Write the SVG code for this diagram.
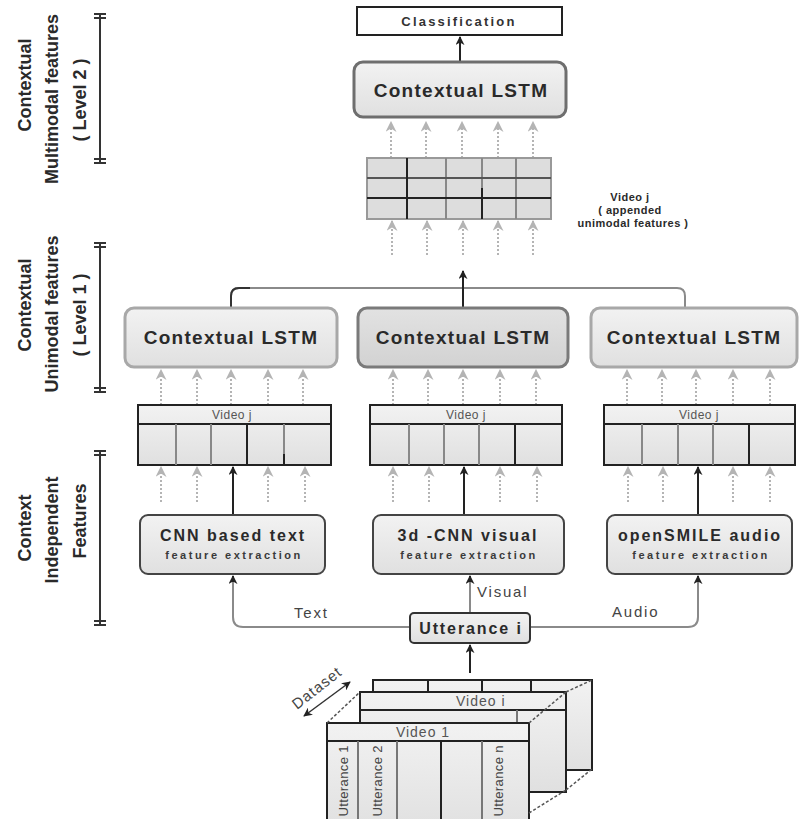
<svg xmlns="http://www.w3.org/2000/svg" width="799" height="819" viewBox="0 0 799 819">
  <defs>
    <linearGradient id="gBox" x1="0" y1="0" x2="0" y2="1">
      <stop offset="0" stop-color="#f2f2f2"/>
      <stop offset="1" stop-color="#e0e0e0"/>
    </linearGradient>
    <linearGradient id="gDark" x1="0" y1="0" x2="0" y2="1">
      <stop offset="0" stop-color="#e2e2e2"/>
      <stop offset="1" stop-color="#d2d2d2"/>
    </linearGradient>
    <marker id="ahBlack" viewBox="0 0 10 10" refX="9" refY="5" markerWidth="9" markerHeight="9" markerUnits="userSpaceOnUse" orient="auto-start-reverse">
      <path d="M0,0 L10,5 L0,10 L3,5 Z" fill="#222"/>
    </marker>
    <marker id="ahGray" viewBox="0 0 10 10" refX="9" refY="5" markerWidth="11" markerHeight="11" markerUnits="userSpaceOnUse" orient="auto">
      <path d="M0,0 L10,5 L0,10 L3,5 Z" fill="#b4b4b4"/>
    </marker>
  </defs>
  <style>
    .lab { font-family: "Liberation Sans", Arial, sans-serif; font-weight: bold; font-size: 18px; fill: #2a2a2a; text-anchor: middle; }
    .lstm { font-family: "Liberation Sans", Arial, sans-serif; font-weight: bold; font-size: 19px; letter-spacing: 1.3px; fill: #2a2a2a; text-anchor: middle; }
    .feat { font-family: "Liberation Sans", Arial, sans-serif; font-weight: bold; font-size: 16px; letter-spacing: 2px; fill: #2a2a2a; text-anchor: middle; }
    .sub { font-family: "Liberation Sans", Arial, sans-serif; font-weight: bold; font-size: 11px; letter-spacing: 2.5px; fill: #3a3a3a; text-anchor: middle; }
    .hdr { font-family: "Liberation Sans", Arial, sans-serif; font-size: 12px; letter-spacing: 0.5px; fill: #555; text-anchor: middle; }
    .edge { font-family: "Liberation Sans", Arial, sans-serif; font-size: 15px; letter-spacing: 1.8px; fill: #444; }
    .note { font-family: "Liberation Sans", Arial, sans-serif; font-weight: bold; font-size: 11px; letter-spacing: 0.5px; fill: #2a2a2a; text-anchor: middle; }
    .utt { font-family: "Liberation Sans", Arial, sans-serif; font-size: 13px; letter-spacing: 0.4px; fill: #444; text-anchor: end; }
    .bar { stroke: #333; stroke-width: 2; fill: none; }
    .dots { stroke: #b4b4b4; stroke-width: 2; stroke-dasharray: 2 2; fill: none; marker-end: url(#ahGray); }
    .solid { stroke: #222; stroke-width: 2; fill: none; marker-end: url(#ahBlack); }
    .gline { stroke: #8a8a8a; stroke-width: 2; fill: none; }
    .tbl { fill: url(#gBox); stroke: #222; stroke-width: 2; }
    .col { stroke: #888; stroke-width: 2; }
    .colD { stroke: #222; stroke-width: 2; }
    .dash { stroke: #555; stroke-width: 1.5; stroke-dasharray: 3 2; fill: none; }
  </style>

  <!-- level axis labels -->
  <g id="axis-level2">
    <path class="bar" d="M100,14 V163 M94,14 H106 M94,18 H106 M94,159 H106 M94,163 H106"/>
    <text class="lab" transform="translate(31,85) rotate(-90)">Contextual</text>
    <text class="lab" transform="translate(58,99) rotate(-90)">Multimodal features</text>
    <text class="lab" transform="translate(86,100) rotate(-90)">( Level 2 )</text>
  </g>
  <g id="axis-level1">
    <path class="bar" d="M100,243 V392 M94,243 H106 M94,247 H106 M94,388 H106 M94,392 H106"/>
    <text class="lab" transform="translate(31,305) rotate(-90)">Contextual</text>
    <text class="lab" transform="translate(58,314) rotate(-90)">Unimodal features</text>
    <text class="lab" transform="translate(86,315) rotate(-90)">( Level 1 )</text>
  </g>
  <g id="axis-independent">
    <path class="bar" d="M100,451 V625 M94,451 H106 M94,455 H106 M94,621 H106 M94,625 H106"/>
    <text class="lab" transform="translate(31,528) rotate(-90)">Context</text>
    <text class="lab" transform="translate(58,530) rotate(-90)">Independent</text>
    <text class="lab" transform="translate(86,521) rotate(-90)">Features</text>
  </g>

  <!-- connectors -->
  <g id="connectors">
    <!-- top LSTM to classification -->
    <path class="solid" d="M460,62 V37"/>
    <!-- appended grid to top LSTM -->
    <path class="dots" d="M391,158 V122"/>
    <path class="dots" d="M426,158 V122"/>
    <path class="dots" d="M462,158 V122"/>
    <path class="dots" d="M498,158 V122"/>
    <path class="dots" d="M533,158 V122"/>
    <!-- into appended grid -->
    <path class="dots" d="M392,255 V221"/>
    <path class="dots" d="M427,255 V221"/>
    <path class="dots" d="M463,255 V221"/>
    <path class="dots" d="M498,255 V221"/>
    <path class="dots" d="M533,255 V221"/>
    <!-- merge of unimodal LSTM outputs -->
    <path class="gline" d="M231,307 V296 Q231,288 239,288 H677 Q685,288 685,296 V307"/>
    <path d="M231,307 V296 Q231,288 239,288 H250" stroke="#333" stroke-width="2" fill="none"/>
    <path class="solid" d="M463,307 V271"/>
    <!-- tables to level 1 LSTMs -->
    <path class="dots" d="M161,405 V370"/>
    <path class="dots" d="M197,405 V370"/>
    <path class="dots" d="M231,405 V370"/>
    <path class="dots" d="M268,405 V370"/>
    <path class="dots" d="M303,405 V370"/>
    <path class="dots" d="M393,405 V370"/>
    <path class="dots" d="M428,405 V370"/>
    <path class="dots" d="M463,405 V370"/>
    <path class="dots" d="M500,405 V370"/>
    <path class="dots" d="M536,405 V370"/>
    <path class="dots" d="M627,405 V370"/>
    <path class="dots" d="M662,405 V370"/>
    <path class="dots" d="M696,405 V370"/>
    <path class="dots" d="M733,405 V370"/>
    <path class="dots" d="M770,405 V370"/>
    <!-- feature extractors to tables -->
    <path class="dots" d="M161,502 V467"/>
    <path class="dots" d="M197,502 V467"/>
    <path class="solid" d="M233,515 V467"/>
    <path class="dots" d="M268,502 V467"/>
    <path class="dots" d="M305,502 V467"/>
    <path class="dots" d="M393,502 V467"/>
    <path class="dots" d="M429,502 V467"/>
    <path class="solid" d="M464,515 V467"/>
    <path class="dots" d="M500,502 V467"/>
    <path class="dots" d="M537,502 V467"/>
    <path class="dots" d="M628,502 V467"/>
    <path class="dots" d="M663,502 V467"/>
    <path class="solid" d="M698,515 V467"/>
    <path class="dots" d="M733,502 V467"/>
    <path class="dots" d="M770,502 V467"/>
    <!-- utterance to extractors -->
    <path class="gline" d="M410,627 H243 Q233,627 233,617 V580"/>
    <path class="solid" d="M233,582 V576"/>
    <path class="gline" d="M470,613 V580"/>
    <path class="solid" d="M470,582 V576"/>
    <path class="gline" d="M530,627 H688 Q698,627 698,617 V580"/>
    <path class="solid" d="M698,582 V576"/>
    <text class="edge" x="294" y="618">Text</text>
    <text class="edge" x="477" y="597">Visual</text>
    <text class="edge" x="612" y="617">Audio</text>
    <!-- dataset to utterance -->
    <path class="solid" d="M470,673 V645"/>
  </g>

  <!-- output node -->
  <g id="classification">
    <rect x="357" y="7" width="205" height="28" fill="#fff" stroke="#222" stroke-width="2"/>
    <text class="note" x="459" y="26" style="font-size:13px;letter-spacing:2.2px;fill:#333">Classification</text>
  </g>

  <g id="lstm-level2">
    <rect x="354" y="62" width="212" height="55" rx="9" fill="url(#gBox)" stroke="#6e6e6e" stroke-width="3"/>
    <text class="lstm" x="461" y="97">Contextual LSTM</text>
  </g>

  <!-- appended unimodal features -->
  <g id="appended-grid">
    <rect x="367" y="158" width="184" height="61" fill="#dddddd" stroke="#999" stroke-width="2"/>
    <path d="M446,158 V219 M516,158 V219" stroke="#888" stroke-width="2"/>
    <path d="M482,158 V188" stroke="#888" stroke-width="2"/>
    <path d="M367,178 H551" stroke="#555" stroke-width="2"/>
    <path d="M367,198 H551 M407,158 V219 M482,188 V219" stroke="#222" stroke-width="2"/>
    <text class="note" x="630" y="201">Video j</text>
    <text class="note" x="630" y="214">( appended</text>
    <text class="note" x="633" y="227">unimodal features )</text>
  </g>

  <!-- level 1 LSTMs -->
  <g id="lstm-text">
    <rect x="125" y="308" width="212" height="59" rx="9" fill="url(#gBox)" stroke="#a8a8a8" stroke-width="3"/>
    <text class="lstm" x="231" y="344">Contextual LSTM</text>
  </g>
  <g id="lstm-visual">
    <rect x="358" y="308" width="210" height="59" rx="9" fill="url(#gDark)" stroke="#7a7a7a" stroke-width="3"/>
    <text class="lstm" x="463" y="344">Contextual LSTM</text>
  </g>
  <g id="lstm-audio">
    <rect x="591" y="308" width="206" height="59" rx="9" fill="url(#gBox)" stroke="#a8a8a8" stroke-width="3"/>
    <text class="lstm" x="694" y="344">Contextual LSTM</text>
  </g>

  <!-- per-modality video tables -->
  <g id="table-text">
    <rect class="tbl" x="138" y="405" width="193" height="60"/>
    <path d="M138,424 H331" stroke="#222" stroke-width="2"/>
    <text class="hdr" x="232" y="419">Video j</text>
    <path class="col" d="M176,424 V465 M211,424 V465"/>
    <path class="colD" d="M247,424 V465 M284,454 V465"/>
    <path class="col" d="M284,424 V454"/>
  </g>
  <g id="table-visual">
    <rect class="tbl" x="370" y="405" width="192" height="60"/>
    <path d="M370,424 H562" stroke="#222" stroke-width="2"/>
    <text class="hdr" x="466" y="419">Video j</text>
    <path class="col" d="M409,424 V465 M444,424 V465 M479,424 V465"/>
    <path class="colD" d="M515,424 V465"/>
  </g>
  <g id="table-audio">
    <rect class="tbl" x="604" y="405" width="191" height="60"/>
    <path d="M604,424 H795" stroke="#222" stroke-width="2"/>
    <text class="hdr" x="699" y="419">Video j</text>
    <path class="col" d="M642,424 V465 M678,424 V465 M713,424 V465"/>
    <path class="colD" d="M749,424 V465"/>
  </g>

  <!-- feature extractors -->
  <g id="extract-text">
    <rect x="140" y="515" width="185" height="59" rx="8" fill="url(#gBox)" stroke="#444" stroke-width="2"/>
    <text class="feat" x="233" y="541">CNN based text</text>
    <text class="sub" x="234" y="559">feature extraction</text>
  </g>
  <g id="extract-visual">
    <rect x="373" y="515" width="191" height="59" rx="8" fill="url(#gBox)" stroke="#444" stroke-width="2"/>
    <text class="feat" x="468" y="541">3d -CNN visual</text>
    <text class="sub" x="469" y="559">feature extraction</text>
  </g>
  <g id="extract-audio">
    <rect x="607" y="515" width="185" height="59" rx="8" fill="url(#gBox)" stroke="#444" stroke-width="2"/>
    <text class="feat" x="700" y="541">openSMILE audio</text>
    <text class="sub" x="701" y="559">feature extraction</text>
  </g>

  <g id="utterance">
    <rect x="410" y="613" width="120" height="30" rx="4" fill="url(#gBox)" stroke="#333" stroke-width="2"/>
    <text class="feat" x="471" y="634" style="letter-spacing:1.9px">Utterance i</text>
  </g>

  <!-- stacked dataset of videos -->
  <g id="dataset">
    <rect x="373" y="680" width="219" height="90" fill="url(#gBox)" stroke="#222" stroke-width="2"/>
    <path d="M428,680 V692 M482,680 V692 M531,680 V692" stroke="#222" stroke-width="2"/>
    <rect x="360" y="692" width="206" height="100" fill="url(#gBox)" stroke="#222" stroke-width="2"/>
    <path d="M360,710 H566" stroke="#222" stroke-width="2"/>
    <text class="hdr" x="456" y="706" style="font-size:14px;letter-spacing:1px;text-anchor:start">Video i</text>
    <path d="M517,710 V723" stroke="#777" stroke-width="2"/>
    <rect x="327" y="723" width="202" height="110" fill="url(#gBox)" stroke="#222" stroke-width="2"/>
    <path d="M327,741 H529" stroke="#222" stroke-width="2"/>
    <text class="hdr" x="423" y="737" style="font-size:14px;letter-spacing:1px">Video 1</text>
    <path d="M358,741 V819 M397,741 V819 M482,741 V819" stroke="#777" stroke-width="2"/>
    <path d="M441,741 V819" stroke="#222" stroke-width="2"/>
    <text class="utt" transform="translate(348,745) rotate(-90)">Utterance 1</text>
    <text class="utt" transform="translate(382,745) rotate(-90)">Utterance 2</text>
    <text class="utt" transform="translate(503,745) rotate(-90)">Utterance n</text>
    <path class="dash" d="M327,723 L360,692 M529,723 L566,692 M529,813 L566,790 M566,790 L592,769 M566,692 L592,680"/>
    <text class="edge" transform="translate(320,692) rotate(-38)" text-anchor="middle" style="letter-spacing:1px">Dataset</text>
    <path d="M304,716 L350,682" stroke="#333" stroke-width="1.5" fill="none" marker-start="url(#ahBlack)" marker-end="url(#ahBlack)"/>
  </g>
</svg>
